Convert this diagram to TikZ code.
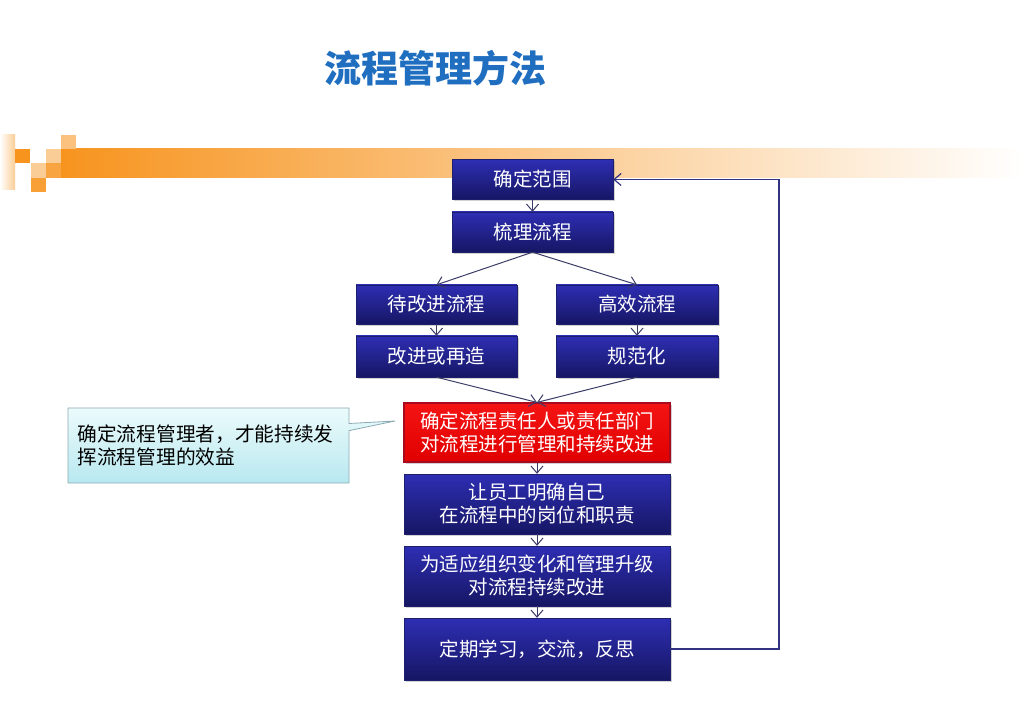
\documentclass[tikz,border=0pt]{standalone}
\usepackage{fontspec}
\newfontfamily\cjk{Noto Sans CJK SC}
\usetikzlibrary{arrows.meta,shadows,shapes.callouts}
\definecolor{titleblue}{RGB}{31,110,192}
\definecolor{boxtop}{RGB}{46,46,180}
\definecolor{boxbot}{RGB}{22,22,100}
\definecolor{boxedge}{RGB}{30,30,110}
\definecolor{redtop}{RGB}{245,20,20}
\definecolor{redbot}{RGB}{225,0,0}
\definecolor{rededge}{RGB}{170,10,30}
\definecolor{arrowc}{RGB}{60,60,105}
\definecolor{loopc}{RGB}{50,50,130}
\definecolor{orangeA}{RGB}{247,148,30}
\definecolor{orangeL}{RGB}{251,205,150}
\definecolor{calloutT}{RGB}{236,251,251}
\definecolor{calloutB}{RGB}{184,232,240}
\definecolor{calloutD}{RGB}{140,170,180}
\begin{document}
\begin{tikzpicture}[x=1pt,y=-1pt,
  bluebox/.style={rectangle, draw=boxedge, line width=0.4pt,
    top color=boxtop, bottom color=boxbot, text=white, align=center,
    font=\cjk\fontsize{19.5}{23}\selectfont, inner sep=0pt,
    drop shadow={opacity=0.35, shadow xshift=1.5pt, shadow yshift=-2pt}},
  redbox/.style={rectangle, draw=rededge, line width=1.2pt,
    top color=redtop, bottom color=redbot, text=white, align=center,
    font=\cjk\fontsize{19.5}{23}\selectfont, inner sep=0pt,
    drop shadow={opacity=0.35, shadow xshift=1.5pt, shadow yshift=-2pt}},
  flow/.style={draw=arrowc, line width=1pt, -{Straight Barb[length=7pt,width=12pt]}},
  loopline/.style={draw=loopc, line width=1.2pt, -{Straight Barb[length=7pt,width=12pt]}},
  note/.style={rectangle callout, draw=calloutD, line width=0.8pt,
    top color=calloutT, bottom color=calloutB, align=left, text=black,
    font=\cjk\fontsize{19.7}{23}\selectfont, inner sep=0pt,
    minimum width=281pt, minimum height=75pt, text width=262pt}
]
\useasboundingbox (0,0) rectangle (1023,708);
\fill[white] (0,0) rectangle (1023,708);

% header decoration
\shade[left color=white, right color=orangeL] (0,135) rectangle (15,190);
\shade[left color=orangeA, right color=white] (61,149) rectangle (1023,178);
\fill[orangeA!85!white] (46,163) rectangle (61,178);
\fill[orangeA] (15,149) rectangle (30,163);
\fill[orangeL] (31,163) rectangle (46,178);
\fill[orangeA!90!white] (31,178) rectangle (46,192);
\fill[orangeL] (46,149) rectangle (61,163);
\fill[orangeL!80!orangeA] (61,135) rectangle (76,149);

% title
\node[font=\cjk\bfseries\fontsize{37}{40}\selectfont, text=titleblue, inner sep=0pt] (title) at (435,68) {流程管理方法};

% boxes
\node[bluebox, minimum width=161pt, minimum height=40pt] (b1) at (532.5,179.5) {确定范围};
\node[bluebox, minimum width=161pt, minimum height=40pt] (b2) at (532.5,232) {梳理流程};
\node[bluebox, minimum width=161pt, minimum height=39pt] (b3) at (436.5,304.5) {待改进流程};
\node[bluebox, minimum width=162pt, minimum height=39pt] (b4) at (637,304.5) {高效流程};
\node[bluebox, minimum width=161pt, minimum height=41pt] (b5) at (436.5,356.5) {改进或再造};
\node[bluebox, minimum width=162pt, minimum height=41pt] (b6) at (637,356.5) {规范化};
\node[redbox, minimum width=266pt, minimum height=59pt] (b7) at (537,432.5) {确定流程责任人或责任部门\\对流程进行管理和持续改进};
\node[bluebox, minimum width=266pt, minimum height=60pt] (b8) at (537,504) {让员工明确自己\\在流程中的岗位和职责};
\node[bluebox, minimum width=266pt, minimum height=60pt] (b9) at (537,576) {为适应组织变化和管理升级\\对流程持续改进};
\node[bluebox, minimum width=266pt, minimum height=62pt] (b10) at (537,649) {定期学习，交流，反思};

% callout
\node[note, callout absolute pointer={(395,421)}] (c1) at (208.5,445.5) {确定流程管理者，才能持续发\\挥流程管理的效益};

% connectors
\draw[flow] (b1.south) -- (b2.north);
\draw[flow] (b2.south) -- (b3.north);
\draw[flow] (b2.south) -- (b4.north);
\draw[flow] (b3.south) -- (b5.north);
\draw[flow] (b4.south) -- (b6.north);
\draw[flow] (b5.south) -- (b7.north);
\draw[flow] (b6.south) -- (b7.north);
\draw[flow] (b7.south) -- (b8.north);
\draw[flow] (b8.south) -- (b9.north);
\draw[flow] (b9.south) -- (b10.north);
\coordinate (loopx) at (779,0);
\draw[loopline] (b10.east) -- (b10.east -| loopx) |- (b1.east);
\end{tikzpicture}
\end{document}
